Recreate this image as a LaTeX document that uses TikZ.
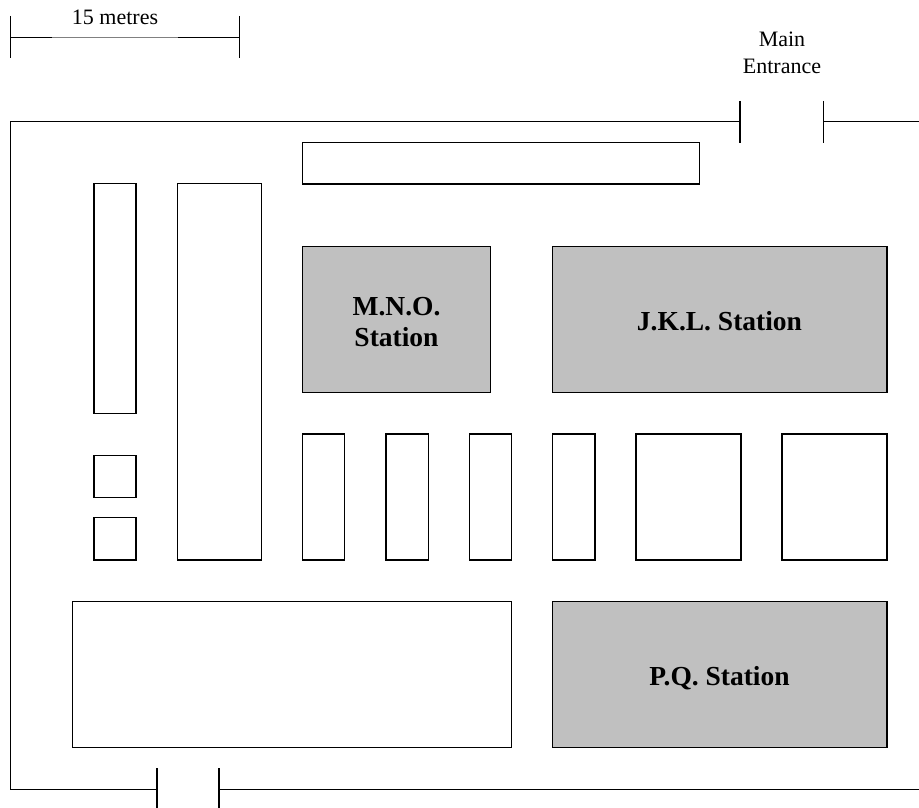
\documentclass[tikz,border=0pt]{standalone}
\usepackage{fontspec}
\setmainfont{Liberation Serif}
\definecolor{stationgray}{HTML}{C0C0C0}
\begin{document}
\begin{tikzpicture}[x=1pt,y=-1pt,
  wall/.style={line width=1.6pt,black},
  bldg/.style={draw=black,line width=1.6pt,fill=white},
  station/.style={draw=black,line width=1.6pt,fill=stationgray},
  lbl/.style={font=\fontsize{22}{26}\selectfont,inner sep=0pt,anchor=base},
  slbl/.style={font=\fontsize{27.5}{31}\bfseries\selectfont,inner sep=0pt,anchor=base},
  tick/.style={line width=1.6pt,black}]
\useasboundingbox (0,0) rectangle (919,808);
% scale bar
\draw[tick] (10.5,16) -- (10.5,58.5);
\draw[tick] (239.5,16) -- (239.5,58.5);
\draw[tick] (10.5,37.5) -- (52,37.5);
\draw[tick] (178,37.5) -- (239.5,37.5);
\draw[line width=0.5pt,gray] (52,37.5) -- (178,37.5);
\node[lbl] (scale) at (115,25) {15 metres};
% entrance labels
\node[lbl] (main) at (782,46.7) {Main};
\node[lbl] (entr) at (782,73.3) {Entrance};
% outer wall
\draw[wall] (740,121.5) -- (10.5,121.5) -- (10.5,789.5) -- (157,789.5);
\draw[wall] (823.5,121.5) -- (919,121.5);
\draw[wall] (219,789.5) -- (919,789.5);
\draw[tick] (740,101) -- (740,142.5);
\draw[tick] (823.5,101) -- (823.5,142.5);
\draw[tick] (157,768) -- (157,808);
\draw[tick] (219,768) -- (219,808);
% buildings
\draw[bldg] (302.5,142.5) rectangle (699.5,184);
\draw[bldg] (94,183.5) rectangle (136,413.5);
\draw[bldg] (177.5,183.5) rectangle (261.5,560);
\draw[bldg] (94,455.5) rectangle (136,497.5);
\draw[bldg] (94,517.5) rectangle (136,560);
\draw[bldg] (302.5,434) rectangle (344.5,560);
\draw[bldg] (386,434) rectangle (428.5,560);
\draw[bldg] (469.5,434) rectangle (511.5,560);
\draw[bldg] (552.5,434) rectangle (595,560);
\draw[bldg] (636,434) rectangle (741,560);
\draw[bldg] (782,434) rectangle (887,560);
\draw[bldg] (72.5,601.5) rectangle (511.5,747.5);
% stations
\draw[station] (302.5,246.5) rectangle (490.5,392.5);
\draw[station] (552.5,246.5) rectangle (887,392.5);
\draw[station] (552.5,601.5) rectangle (887,747.5);
\node[slbl] (mno1) at (396.5,315) {M.N.O.};
\node[slbl] (mno2) at (396.5,346) {Station};
\node[slbl] (jkl) at (719.5,330) {J.K.L. Station};
\node[slbl] (pq) at (719.5,685) {P.Q. Station};
\end{tikzpicture}
\end{document}
